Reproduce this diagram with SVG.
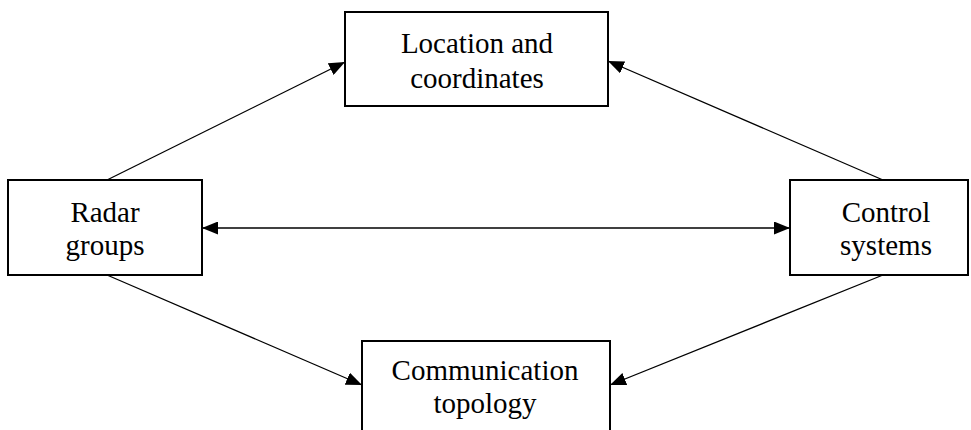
<svg xmlns="http://www.w3.org/2000/svg" width="971" height="430" viewBox="0 0 971 430">
<style>
.box{fill:#fff;stroke:#000;stroke-width:2}
.t{font-family:"Liberation Serif","Times New Roman",serif;font-size:29px;fill:#000;text-anchor:middle}
.c{stroke:#000;stroke-width:1.3;fill:none}
</style>
<defs>
<marker id="ah" markerWidth="17" markerHeight="13" refX="16" refY="6.5" orient="auto" markerUnits="userSpaceOnUse">
<path d="M0,0 L16,6.5 L0,13 Z" fill="#000"/>
</marker>
<marker id="as" markerWidth="17" markerHeight="13" refX="1" refY="6.5" orient="auto" markerUnits="userSpaceOnUse">
<path d="M17,0 L1,6.5 L17,13 Z" fill="#000"/>
</marker>
</defs>
<rect width="971" height="430" fill="#fff"/>
<g id="connectors">
<line class="c" x1="107" y1="180" x2="345" y2="62" marker-end="url(#ah)"/>
<line class="c" x1="883" y1="180" x2="608" y2="61" marker-end="url(#ah)"/>
<line class="c" x1="202" y1="228" x2="790" y2="228" marker-start="url(#as)" marker-end="url(#ah)"/>
<line class="c" x1="107" y1="275" x2="362" y2="385" marker-end="url(#ah)"/>
<line class="c" x1="883" y1="275" x2="610" y2="385" marker-end="url(#ah)"/>
</g>
<g id="location">
<rect class="box" x="345" y="12" width="263" height="94"/>
<text class="t" x="477" y="53">Location and</text>
<text class="t" x="477" y="88">coordinates</text>
</g>
<g id="radar">
<rect class="box" x="8" y="180" width="194" height="95"/>
<text class="t" x="105" y="222">Radar</text>
<text class="t" x="105" y="255">groups</text>
</g>
<g id="control">
<rect class="box" x="790" y="180" width="178" height="95"/>
<text class="t" x="886" y="222">Control</text>
<text class="t" x="886" y="255">systems</text>
</g>
<g id="communication">
<rect class="box" x="362" y="341" width="248" height="100"/>
<text class="t" x="485" y="380">Communication</text>
<text class="t" x="485" y="413">topology</text>
</g>
</svg>
